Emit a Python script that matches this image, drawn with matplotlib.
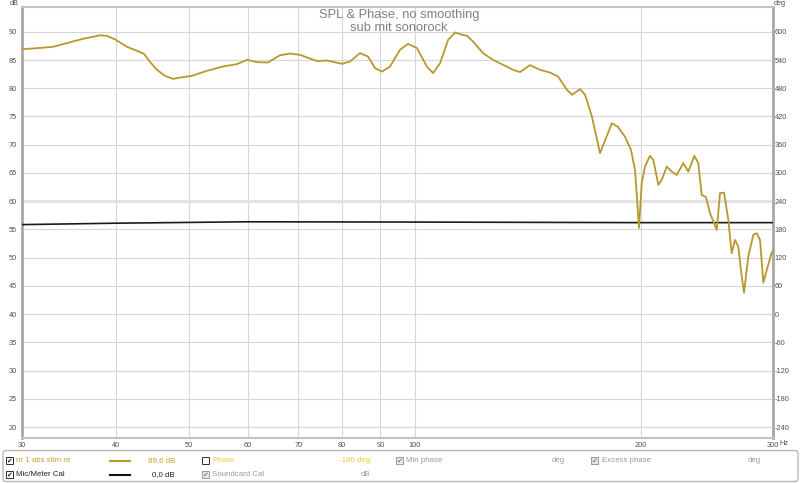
import matplotlib
import matplotlib.pyplot as plt
from matplotlib.patches import Rectangle, FancyBboxPatch

matplotlib.rc('font', family='Liberation Sans')
matplotlib.rcParams['axes.unicode_minus'] = False

freq = [30.0, 31.03, 32.99, 34.44, 36.17, 38.10, 38.93, 39.89, 41.39, 42.68,
        43.60, 44.41, 45.38, 46.50, 47.66, 49.14, 50.52, 52.89, 55.55, 57.99,
        59.80, 61.66, 63.77, 66.16, 68.22, 70.34, 74.12, 76.43, 80.03, 82.01,
        84.56, 86.66, 88.54, 90.46, 92.71, 95.59, 97.97, 100.7, 103.8, 105.8,
        108.1, 110.8, 113.2, 115.6, 117.4, 119.6, 123.3, 127.1, 131.1, 135.2,
        138.1, 142.4, 146.9, 151.4, 155.2, 159.5, 162.0, 166.0, 168.6, 172.2,
        176.5, 178.7, 183.1, 186.5, 190.6, 194.1, 196.5, 197.9, 198.9, 200.6,
        202.6, 205.7, 207.8, 211.1, 213.3, 216.6, 219.9, 223.3, 227.9, 231.4,
        235.7, 238.6, 241.1, 244.3, 247.3, 252.5, 255.0, 258.2, 261.6, 264.3,
        267.0, 269.7, 272.6, 274.5, 278.1, 282.4, 285.4, 288.3, 291.2, 294.3,
        298.8, 300.0]
spl = [86.93, 87.04, 87.34, 88.00, 88.76, 89.38, 89.29, 88.67, 87.34, 86.63,
       86.10, 84.68, 83.27, 82.20, 81.67, 81.97, 82.20, 83.09, 83.85, 84.28,
       85.04, 84.63, 84.56, 85.84, 86.15, 85.92, 84.81, 84.91, 84.33, 84.74,
       86.23, 85.62, 83.57, 82.96, 83.85, 86.81, 87.87, 87.11, 83.85, 82.68,
       84.45, 88.58, 89.88, 89.47, 89.29, 88.28, 86.23, 85.04, 84.15, 83.27,
       82.86, 84.10, 83.27, 82.79, 82.08, 79.72, 78.84, 79.85, 78.84, 74.99,
       68.50, 70.33, 73.82, 73.16, 71.39, 69.09, 65.54, 59.70, 55.27, 63.24,
       66.13, 68.03, 67.32, 62.89, 63.77, 66.13, 65.24, 64.66, 66.73, 65.24,
       68.03, 66.73, 61.11, 60.71, 57.87, 54.91, 61.42, 61.52, 56.68, 50.78,
       53.14, 51.95, 46.64, 43.80, 50.18, 54.03, 54.33, 53.14, 45.57, 47.82,
       50.89, 51.19]

# mic/meter calibration curve
cal_freq = [30, 40, 60, 100, 200, 300]
cal_spl = [55.85, 56.1, 56.35, 56.3, 56.2, 56.2]

xticks = [30, 40, 50, 60, 70, 80, 90, 100, 200, 300]
yticks = list(range(20, 95, 5))

fig = plt.figure(figsize=(8, 4.83), dpi=100)
ax = fig.add_axes([22/800, 1-438.3/483, (773-22)/800, (438.3-7.3)/483])

ylo, yhi = 18.0, 94.34
ax.set_xscale('log')
ax.set_xlim(30, 300)
ax.set_ylim(ylo, yhi)

grid_c = '#d6d6d6'
for f in xticks[1:-1]:
    ax.axvline(f, color=grid_c, lw=0.8, zorder=1)
for v in yticks:
    if v == 60:
        ax.axhline(v, color='#e4e4e4', lw=2.2, zorder=1)
    else:
        ax.axhline(v, color=grid_c, lw=0.8, zorder=1)

ax.plot(cal_freq, cal_spl, color='#1a1a1a', lw=1.2, zorder=3)
ax.plot(freq, spl, color='#b8982e', lw=1.3, zorder=4,
        solid_joinstyle='round')

ax.set_xticks(xticks)
ax.set_xticklabels([str(f) for f in xticks])
ax.xaxis.set_minor_locator(matplotlib.ticker.NullLocator())
ax.set_yticks(yticks)
ax.tick_params(length=0, labelsize=5.3, labelcolor='#505050')
ax.tick_params(axis='x', pad=2.5)
ax.tick_params(axis='y', pad=3.5)

for side in ['left', 'right']:
    ax.spines[side].set_color('#a8a8a8')
    ax.spines[side].set_linewidth(2.0)
for side in ['top', 'bottom']:
    ax.spines[side].set_color('#c4c4c4')
    ax.spines[side].set_linewidth(1.5)

# phase axis on the right
ax2 = ax.twinx()
ax2.set_ylim((ylo-90)*12+600, (yhi-90)*12+600)
ax2.set_yticks(list(range(-240, 601, 60)))
ax2.tick_params(length=0, labelsize=5.3, labelcolor='#505050', pad=1)
for s in ax2.spines.values():
    s.set_visible(False)

# overlay in pixel coordinates for titles and legend panel
ov = fig.add_axes([0, 0, 1, 1], zorder=10)
ov.set_xlim(0, 800)
ov.set_ylim(483, 0)
ov.axis('off')
ov.patch.set_alpha(0)

ov.text(399, 15, 'SPL & Phase, no smoothing', ha='center', va='center',
        fontsize=9.3, color='#808080')
ov.text(399, 28, 'sub mit sonorock', ha='center', va='center',
        fontsize=9.3, color='#808080')
ov.text(14, 3.5, 'dB', ha='center', va='center', fontsize=5.3, color='#505050')
ov.text(780, 3.5, 'deg', ha='center', va='center', fontsize=5.3, color='#505050')
ov.text(779, 443.5, 'Hz', ha='left', va='center', fontsize=5.3, color='#505050')

ov.add_patch(FancyBboxPatch((3, 450.5), 795, 31, boxstyle='round,pad=0,rounding_size=3',
                            fc='white', ec='#b8b8b8', lw=1.0))

def checkbox(x, y, checked=True, grey=False):
    ec = '#9a9a9a' if grey else '#303030'
    fc = '#e6e6e6' if grey else 'white'
    ov.add_patch(Rectangle((x-3.5, y-3.5), 7, 7, fc=fc, ec=ec, lw=0.7))
    if checked:
        ov.text(x+0.3, y+0.3, '\u2714', ha='center', va='center', fontsize=5,
                family='DejaVu Sans', color='#888888' if grey else '#202020')

gold = '#c4a232'
yellow = '#e8cc3c'
grey_t = '#9a9a9a'
r1, r2 = 460.5, 474.5

checkbox(9, r1)
ov.text(16, r1, 'nr 1 abs stim re', va='center', fontsize=5.7, color=gold)
ov.plot([110, 130], [r1, r1], color='#b8982e', lw=1.5)
ov.text(175, r1, '89,6 dB', ha='right', va='center', fontsize=5.7, color=gold)
checkbox(205, r1, checked=False)
ov.text(212, r1, 'Phase', va='center', fontsize=5.7, color=yellow)
ov.text(370, r1, '-180 deg', ha='right', va='center', fontsize=5.7, color=yellow)
checkbox(399, r1, grey=True)
ov.text(406, r1, 'Min phase', va='center', fontsize=5.7, color=grey_t)
ov.text(552, r1, 'deg', va='center', fontsize=5.7, color=grey_t)
checkbox(594, r1, grey=True)
ov.text(602, r1, 'Excess phase', va='center', fontsize=5.7, color=grey_t)
ov.text(748, r1, 'deg', va='center', fontsize=5.7, color=grey_t)

checkbox(9, r2)
ov.text(16, r2, 'Mic/Meter Cal', va='center', fontsize=5.7, color='#202020')
ov.plot([110, 130], [r2, r2], color='#111111', lw=1.5)
ov.text(175, r2, '0,0 dB', ha='right', va='center', fontsize=5.7, color='#202020')
checkbox(205, r2, grey=True)
ov.text(212, r2, 'Soundcard Cal', va='center', fontsize=5.7, color=grey_t)
ov.text(370, r2, 'dB', ha='right', va='center', fontsize=5.7, color=grey_t)

plt.savefig('out.png', dpi=100)
plt.close(fig)
